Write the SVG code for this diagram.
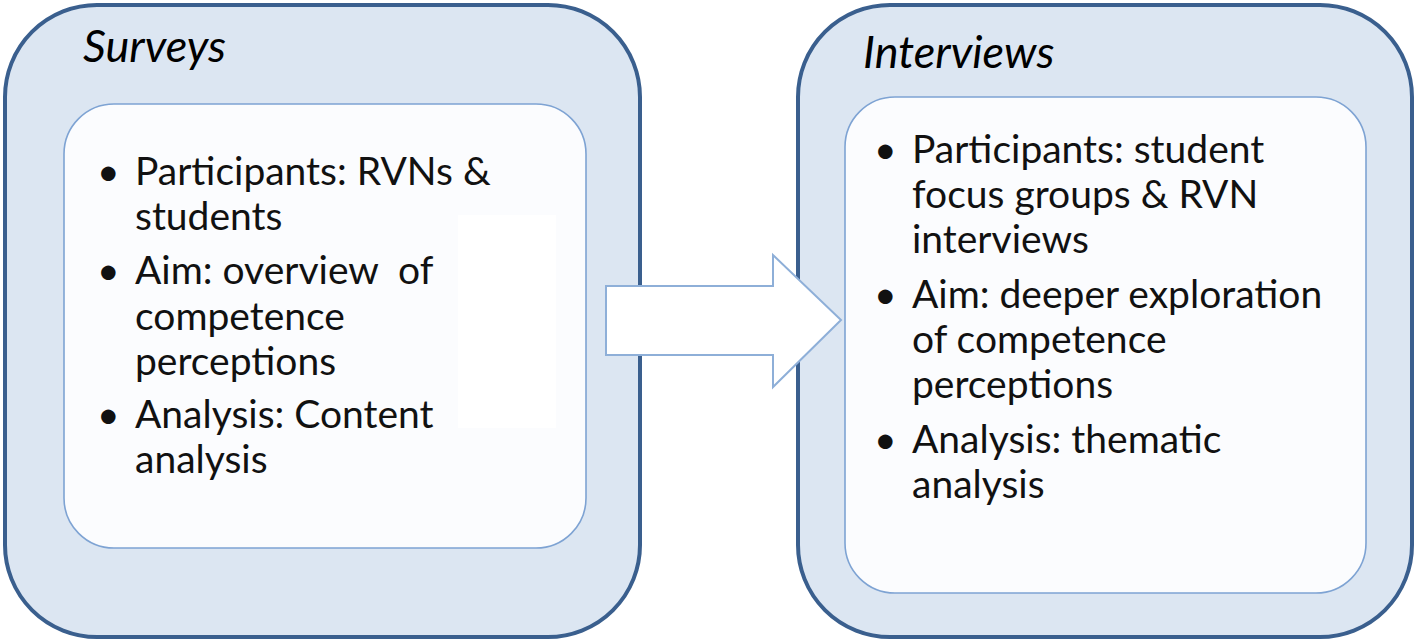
<svg xmlns="http://www.w3.org/2000/svg" width="1418" height="644" viewBox="0 0 1418 644">
<style>
.outer{fill:#dce6f2;stroke:#3a5f8e;stroke-width:4}
.inner{fill:#fbfcfe;stroke:#7ea3d3;stroke-width:1.6}
.title{font-family:Lato,"Open Sans",sans-serif;font-style:italic;font-size:45px;fill:#000}
.t{font-family:Lato,"Open Sans",sans-serif;font-size:39px;fill:#111;white-space:pre}
.arrow{fill:#ffffff;stroke:#8eafd8;stroke-width:2}
</style>
<rect width="1418" height="644" fill="#ffffff"/>
<g id="surveys">
<rect class="outer" x="5" y="5" width="635" height="632" rx="92" ry="92"/>
<rect class="inner" x="64" y="104" width="522" height="444" rx="50" ry="50"/>
<rect x="458" y="215" width="98" height="213" fill="#ffffff"/>
<text class="title" x="83" y="62">Surveys</text>
<text class="t" x="97" y="185">•</text>
<text class="t" x="135" y="185">Participants: RVNs &amp;</text>
<text class="t" x="135" y="230">students</text>
<text class="t" x="97" y="284">•</text>
<text class="t" x="135" y="284">Aim: overview  of</text>
<text class="t" x="135" y="330">competence</text>
<text class="t" x="135" y="375">perceptions</text>
<text class="t" x="97" y="428">•</text>
<text class="t" x="135" y="428">Analysis: Content</text>
<text class="t" x="135" y="473">analysis</text>
</g>
<g id="interviews">
<rect class="outer" x="798" y="5" width="614" height="632" rx="92" ry="92"/>
<rect class="inner" x="845" y="97" width="521" height="496" rx="50" ry="50"/>
<text class="title" x="863" y="68">Interviews</text>
<text class="t" x="874" y="163">•</text>
<text class="t" x="912" y="163">Participants: student</text>
<text class="t" x="912" y="208">focus groups &amp; RVN</text>
<text class="t" x="912" y="253">interviews</text>
<text class="t" x="874" y="308">•</text>
<text class="t" x="912" y="308">Aim: deeper exploration</text>
<text class="t" x="912" y="353">of competence</text>
<text class="t" x="912" y="398">perceptions</text>
<text class="t" x="874" y="453">•</text>
<text class="t" x="912" y="453">Analysis: thematic</text>
<text class="t" x="912" y="498">analysis</text>
</g>
<g id="connectors">
<path class="arrow" d="M606,286 L773,286 L773,255 L841,320 L773,387 L773,355 L606,355 Z"/>
</g>
</svg>
